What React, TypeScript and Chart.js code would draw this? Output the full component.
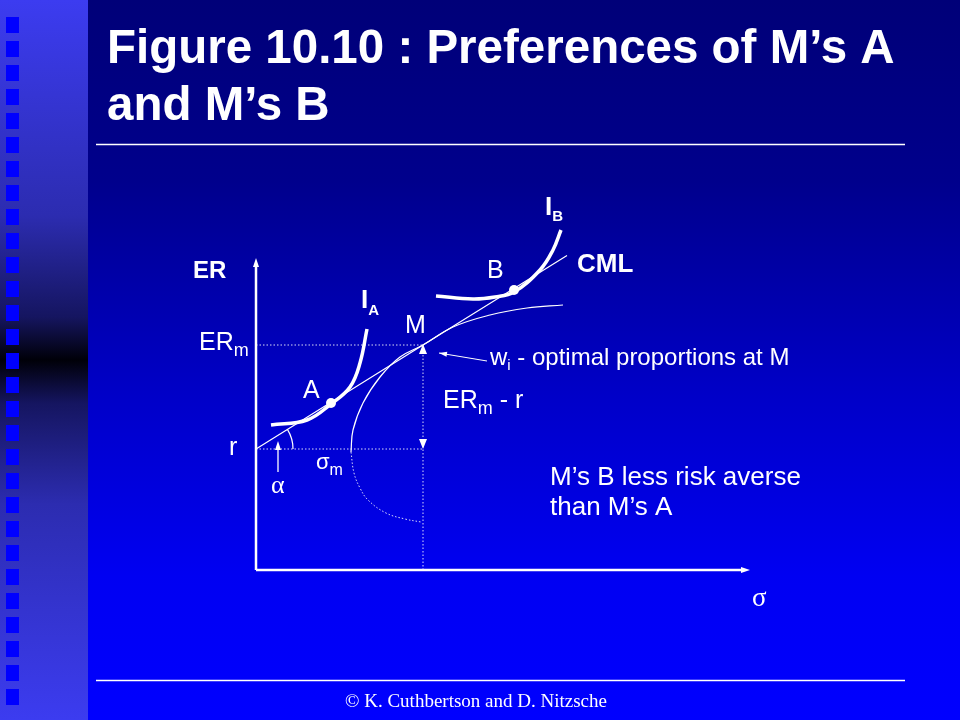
import React, { useEffect, useRef } from "react";
import { Chart, registerables } from "chart.js";

Chart.register(...registerables);

// ---- data (sigma = standard deviation, ER = expected return) ----
const riskFree = 2.42;
const marketER = 4.5;
const marketSigma = 3.34;

const cmlSigma = [0, 3.34, 6.22];
const cmlER = [2.42, 4.5, 6.29];

const frontierUpperSigma = [1.9, 1.94, 2.14, 2.48, 2.88, 3.34, 3.94, 4.68, 5.42, 6.14];
const frontierUpperER = [2.36, 2.8, 3.34, 3.86, 4.26, 4.5, 4.86, 5.1, 5.24, 5.3];
const frontierLowerSigma = [1.9, 1.96, 2.08, 2.24, 2.6, 2.98, 3.3];
const frontierLowerER = [2.36, 1.94, 1.64, 1.4, 1.14, 1.02, 0.96];

const indiffASigma = [0.3, 1.02, 1.5, 1.88, 2.08, 2.22];
const indiffAER = [2.9, 3.0, 3.32, 3.66, 4.14, 4.82];
const indiffBSigma = [3.6, 4.34, 4.78, 5.16, 5.68, 5.94, 6.1];
const indiffBER = [5.48, 5.42, 5.46, 5.56, 6.0, 6.4, 6.8];

const optimumSigma = [1.5, 5.16];
const optimumER = [3.34, 5.6];

const axisMaxSigma = 9.88;
const axisMaxER = 6.24;

// arrows: [fromSigma, fromER, toSigma, toER]
const alphaArrow = [0.44, 1.96, 0.44, 2.58];
const weightsArrow = [4.62, 4.18, 3.66, 4.34];

const titleLines = ["Figure 10.10 : Preferences of M\u2019s A", "and M\u2019s B"];
const noteLines = ["M\u2019s B less risk averse", "than M\u2019s A"];
const footerText = "\u00A9 K. Cuthbertson and D. Nitzsche";

const pts = (xs: number[], ys: number[]) => xs.map((x, i) => ({ x, y: ys[i] }));

const SANS = '"Liberation Sans", Arial, sans-serif';
const SERIF = '"Liberation Serif", "Times New Roman", serif';

function arrowHead(ctx: CanvasRenderingContext2D, x1: number, y1: number, x2: number, y2: number, len: number, w: number) {
  const a = Math.atan2(y2 - y1, x2 - x1);
  ctx.beginPath();
  ctx.moveTo(x2, y2);
  ctx.lineTo(x2 - len * Math.cos(a) + (w / 2) * Math.sin(a), y2 - len * Math.sin(a) - (w / 2) * Math.cos(a));
  ctx.lineTo(x2 - len * Math.cos(a) - (w / 2) * Math.sin(a), y2 - len * Math.sin(a) + (w / 2) * Math.cos(a));
  ctx.closePath();
  ctx.fill();
}

function subText(
  ctx: CanvasRenderingContext2D,
  main: string,
  sub: string,
  x: number,
  y: number,
  font: string,
  subFont: string,
  drop: number,
  tail?: string
) {
  ctx.font = font;
  ctx.fillText(main, x, y);
  let cx = x + ctx.measureText(main).width;
  ctx.font = subFont;
  ctx.fillText(sub, cx, y + drop);
  cx += ctx.measureText(sub).width;
  if (tail) {
    ctx.font = font;
    ctx.fillText(tail, cx, y);
  }
}

const backgroundPlugin = {
  id: "slideBackground",
  beforeDraw(chart: any) {
    const ctx: CanvasRenderingContext2D = chart.ctx;
    const W = chart.width;
    const H = chart.height;
    ctx.save();
    const g = ctx.createLinearGradient(0, 0, 0, H);
    g.addColorStop(0, "#000078");
    g.addColorStop(0.25, "#00008c");
    g.addColorStop(0.55, "#0000c8");
    g.addColorStop(0.8, "#0000f2");
    g.addColorStop(1, "#0000ff");
    ctx.fillStyle = g;
    ctx.fillRect(0, 0, W, H);

    const s = ctx.createLinearGradient(0, 0, 0, H);
    s.addColorStop(0, "#3c3cf0");
    s.addColorStop(0.3, "#2c2cb0");
    s.addColorStop(0.44, "#151560");
    s.addColorStop(0.5, "#000008");
    s.addColorStop(0.56, "#151560");
    s.addColorStop(0.7, "#2c2cb0");
    s.addColorStop(1, "#3c3cf0");
    ctx.fillStyle = s;
    ctx.fillRect(0, 0, 88, H);

    ctx.fillStyle = "#0000ff";
    for (let k = 0; k < 29; k++) {
      ctx.fillRect(6, 17 + k * 24, 13, 16);
    }
    ctx.restore();
  },
};

const annotationPlugin = {
  id: "slideAnnotations",
  afterDraw(chart: any) {
    const ctx: CanvasRenderingContext2D = chart.ctx;
    const xs = chart.scales.x;
    const ys = chart.scales.y;
    const px = (v: number) => xs.getPixelForValue(v);
    const py = (v: number) => ys.getPixelForValue(v);
    ctx.save();
    ctx.fillStyle = "#ffffff";
    ctx.strokeStyle = "#ffffff";

    // axes
    const ox = px(0);
    const oy = py(0);
    ctx.lineWidth = 2.5;
    ctx.beginPath();
    ctx.moveTo(ox, oy);
    ctx.lineTo(ox, py(axisMaxER) + 6);
    ctx.moveTo(ox, oy);
    ctx.lineTo(px(axisMaxSigma) - 6, oy);
    ctx.stroke();
    arrowHead(ctx, ox, oy, ox, py(axisMaxER), 9, 6);
    arrowHead(ctx, ox, oy, px(axisMaxSigma), oy, 9, 6);

    // alpha arc
    const slope = (cmlER[1] - cmlER[0]) / (cmlSigma[1] - cmlSigma[0]);
    ctx.lineWidth = 1.2;
    ctx.beginPath();
    ctx.arc(ox, py(riskFree), 37, -Math.atan(slope), 0);
    ctx.stroke();

    // alpha arrow
    ctx.lineWidth = 1.3;
    ctx.beginPath();
    ctx.moveTo(px(alphaArrow[0]), py(alphaArrow[1]));
    ctx.lineTo(px(alphaArrow[2]), py(alphaArrow[3]) + 6);
    ctx.stroke();
    arrowHead(ctx, px(alphaArrow[0]), py(alphaArrow[1]), px(alphaArrow[2]), py(alphaArrow[3]), 9, 6);

    // ERm - r double arrow heads
    const mx = px(marketSigma);
    arrowHead(ctx, mx, py(riskFree), mx, py(marketER) - 1, 10, 8);
    arrowHead(ctx, mx, py(marketER), mx, py(riskFree), 10, 8);

    // weights arrow
    ctx.lineWidth = 1;
    ctx.beginPath();
    ctx.moveTo(px(weightsArrow[0]), py(weightsArrow[1]));
    ctx.lineTo(px(weightsArrow[2]), py(weightsArrow[3]));
    ctx.stroke();
    arrowHead(ctx, px(weightsArrow[0]), py(weightsArrow[1]), px(weightsArrow[2]), py(weightsArrow[3]), 8, 5);

    // labels
    ctx.textBaseline = "alphabetic";
    ctx.textAlign = "left";
    ctx.font = `bold 24px ${SANS}`;
    ctx.fillText("ER", 193, 278);
    subText(ctx, "ER", "m", 199, 350, `25px ${SANS}`, `18px ${SANS}`, 6);
    ctx.font = `25px ${SANS}`;
    ctx.fillText("r", 229, 455);
    ctx.fillText("A", 303, 398);
    ctx.fillText("M", 405, 333);
    ctx.fillText("B", 487, 278);
    subText(ctx, "I", "A", 361, 308, `bold 26px ${SANS}`, `bold 15px ${SANS}`, 7);
    subText(ctx, "I", "B", 545, 215, `bold 26px ${SANS}`, `bold 15px ${SANS}`, 6);
    ctx.font = `bold 26px ${SANS}`;
    ctx.fillText("CML", 577, 272);
    subText(ctx, "ER", "m", 443, 408, `25px ${SANS}`, `18px ${SANS}`, 6, " - r");
    subText(ctx, "\u03C3", "m", 316, 469, `22px ${SANS}`, `16px ${SANS}`, 6);
    ctx.font = `26px ${SERIF}`;
    ctx.fillText("\u03B1", 271, 493);
    ctx.font = `27px ${SERIF}`;
    ctx.fillText("\u03C3", 752, 606);
    subText(ctx, "w", "i", 490, 365, `24px ${SANS}`, `15px ${SANS}`, 5, " - optimal proportions at M");
    ctx.font = `26px ${SANS}`;
    ctx.fillText(noteLines[0], 550, 485);
    ctx.fillText(noteLines[1], 550, 515);

    // title
    ctx.font = `bold 47.5px ${SANS}`;
    ctx.fillText(titleLines[0], 107, 63);
    ctx.fillText(titleLines[1], 107, 120);

    // rules
    ctx.lineWidth = 1.5;
    ctx.beginPath();
    ctx.moveTo(96, 144.5);
    ctx.lineTo(905, 144.5);
    ctx.moveTo(96, 680.5);
    ctx.lineTo(905, 680.5);
    ctx.stroke();

    // footer
    ctx.font = `19px ${SERIF}`;
    ctx.textAlign = "center";
    ctx.fillText(footerText, 476, 707);
    ctx.restore();
  },
};

export default function App() {
  const ref = useRef<HTMLCanvasElement | null>(null);

  useEffect(() => {
    if (!ref.current) return;
    const white = "#ffffff";
    const guide = "rgba(255,255,255,0.85)";
    const line = (data: any[], extra: any = {}) => ({
      data,
      showLine: true,
      borderColor: white,
      borderWidth: 1.2,
      pointRadius: 0,
      tension: 0,
      clip: false,
      ...extra,
    });
    const chart = new Chart(ref.current, {
      type: "scatter",
      data: {
        datasets: [
          line([{ x: 0, y: marketER }, { x: marketSigma, y: marketER }], { borderColor: guide, borderWidth: 1, borderDash: [1.5, 2] }),
          line([{ x: 0, y: riskFree }, { x: marketSigma, y: riskFree }], { borderColor: guide, borderWidth: 1, borderDash: [1.5, 2] }),
          line([{ x: marketSigma, y: 0 }, { x: marketSigma, y: marketER }], { borderColor: guide, borderWidth: 1, borderDash: [1.5, 2] }),
          line(pts(cmlSigma, cmlER), { borderWidth: 1.2 }),
          line(pts(frontierUpperSigma, frontierUpperER), { tension: 0.4, borderWidth: 1.2 }),
          line(pts(frontierLowerSigma, frontierLowerER), { tension: 0.4, borderWidth: 1, borderDash: [1.5, 2], borderColor: guide }),
          line(pts(indiffASigma, indiffAER), { tension: 0.4, borderWidth: 3.5 }),
          line(pts(indiffBSigma, indiffBER), { tension: 0.4, borderWidth: 3.5 }),
          {
            data: pts(optimumSigma, optimumER),
            showLine: false,
            pointRadius: 5,
            pointBackgroundColor: white,
            pointBorderWidth: 0,
            clip: false,
          },
        ],
      },
      options: {
        responsive: false,
        animation: false,
        devicePixelRatio: 1,
        events: [],
        layout: { padding: { left: 256, right: 204, top: 170, bottom: 150 }, autoPadding: false },
        plugins: { legend: { display: false }, tooltip: { enabled: false }, title: { display: false } },
        scales: {
          x: { type: "linear", min: 0, max: 10, display: false },
          y: { type: "linear", min: 0, max: 8, display: false },
        },
      } as any,
      plugins: [backgroundPlugin, annotationPlugin],
    });
    return () => chart.destroy();
  }, []);

  return (
    <div style={{ position: "absolute", left: 0, top: 0, width: 960, height: 720 }}>
      <canvas ref={ref} width={960} height={720} style={{ display: "block" }} />
    </div>
  );
}
